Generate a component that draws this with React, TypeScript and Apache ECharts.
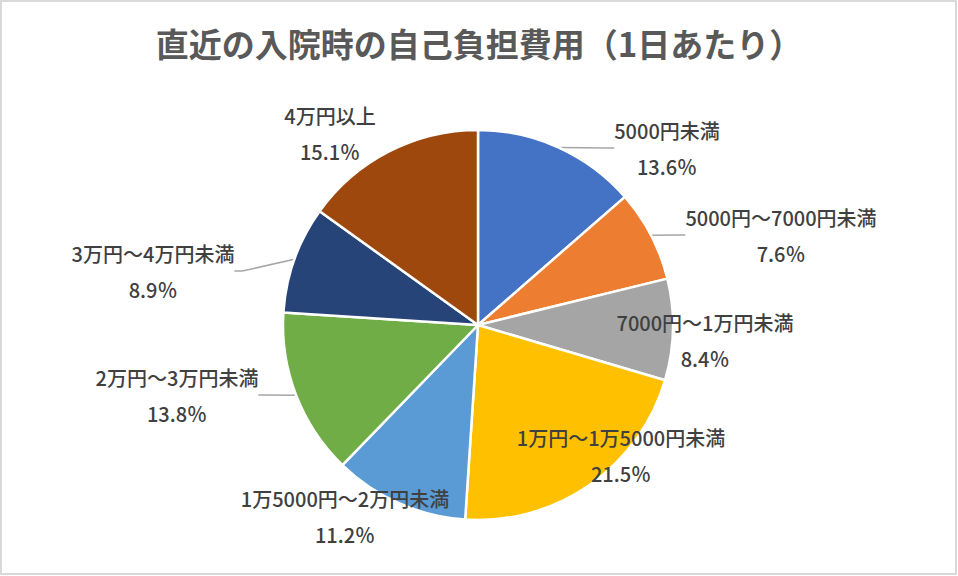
import React, { useEffect, useRef } from "react";
import * as echarts from "echarts";

const titleText = "直近の入院時の自己負担費用（1日あたり）";
const categories = [
  "5000円未満",
  "5000円～7000円未満",
  "7000円～1万円未満",
  "1万円～1万5000円未満",
  "1万5000円～2万円未満",
  "2万円～3万円未満",
  "3万円～4万円未満",
  "4万円以上",
];
const values = [13.6, 7.6, 8.4, 21.5, 11.2, 13.8, 8.9, 15.1];
const colors = ["#4472C4", "#ED7D31", "#A5A5A5", "#FFC000", "#5B9BD5", "#70AD47", "#264478", "#9E480E"];
// label block centres (text positions only)
const labelPos: [number, number][] = [
  [667, 148],
  [781, 235],
  [705, 340],
  [621, 455],
  [345, 516],
  [177, 395],
  [153, 271],
  [330, 133],
];
const showLine = [true, true, false, false, false, true, true, false];

export default function App() {
  const ref = useRef<HTMLDivElement>(null);
  useEffect(() => {
    if (!ref.current) return;
    const chart = echarts.init(ref.current, undefined, { renderer: "svg" });
    const font = '"Noto Sans CJK JP", "Noto Sans", sans-serif';
    chart.setOption({
      animation: false,
      backgroundColor: "#ffffff",
      graphic: [
        {
          type: "rect",
          shape: { x: 1, y: 1, width: 955, height: 573 },
          style: { fill: "none", stroke: "#d9d9d9", lineWidth: 2 },
          silent: true,
        },
      ],
      title: {
        text: titleText,
        left: "center",
        top: 21,
        textStyle: { fontFamily: font, fontSize: 33, fontWeight: "bold", color: "#595959" },
      },
      series: [
        {
          type: "pie",
          center: [478, 325],
          radius: 195,
          startAngle: 90,
          clockwise: true,
          data: categories.map((name, i) => ({
            name,
            value: values[i],
            itemStyle: { color: colors[i] },
            labelLine: { show: showLine[i] },
          })),
          itemStyle: { borderColor: "#ffffff", borderWidth: 2.5 },
          label: {
            show: true,
            position: "outside",
            formatter: (p: any) => `${p.name}\n${Number(p.value).toFixed(1)}％`,
            fontFamily: font,
            fontSize: 20,
            fontWeight: 500,
            color: "#404040",
            lineHeight: 36,
            align: "center",
          },
          labelLine: {
            show: true,
            length: 12,
            length2: 8,
            lineStyle: { color: "#a6a6a6", width: 1.5 },
          },
          labelLayout: (p: any) => {
            const [x, y] = labelPos[p.dataIndex];
            return { x, y, align: "center", verticalAlign: "middle", moveOverlap: false };
          },
        },
      ],
    });
    return () => chart.dispose();
  }, []);
  return (
    <div
      ref={ref}
      style={{ position: "fixed", left: 0, top: 0, width: 958, height: 576 }}
    />
  );
}
